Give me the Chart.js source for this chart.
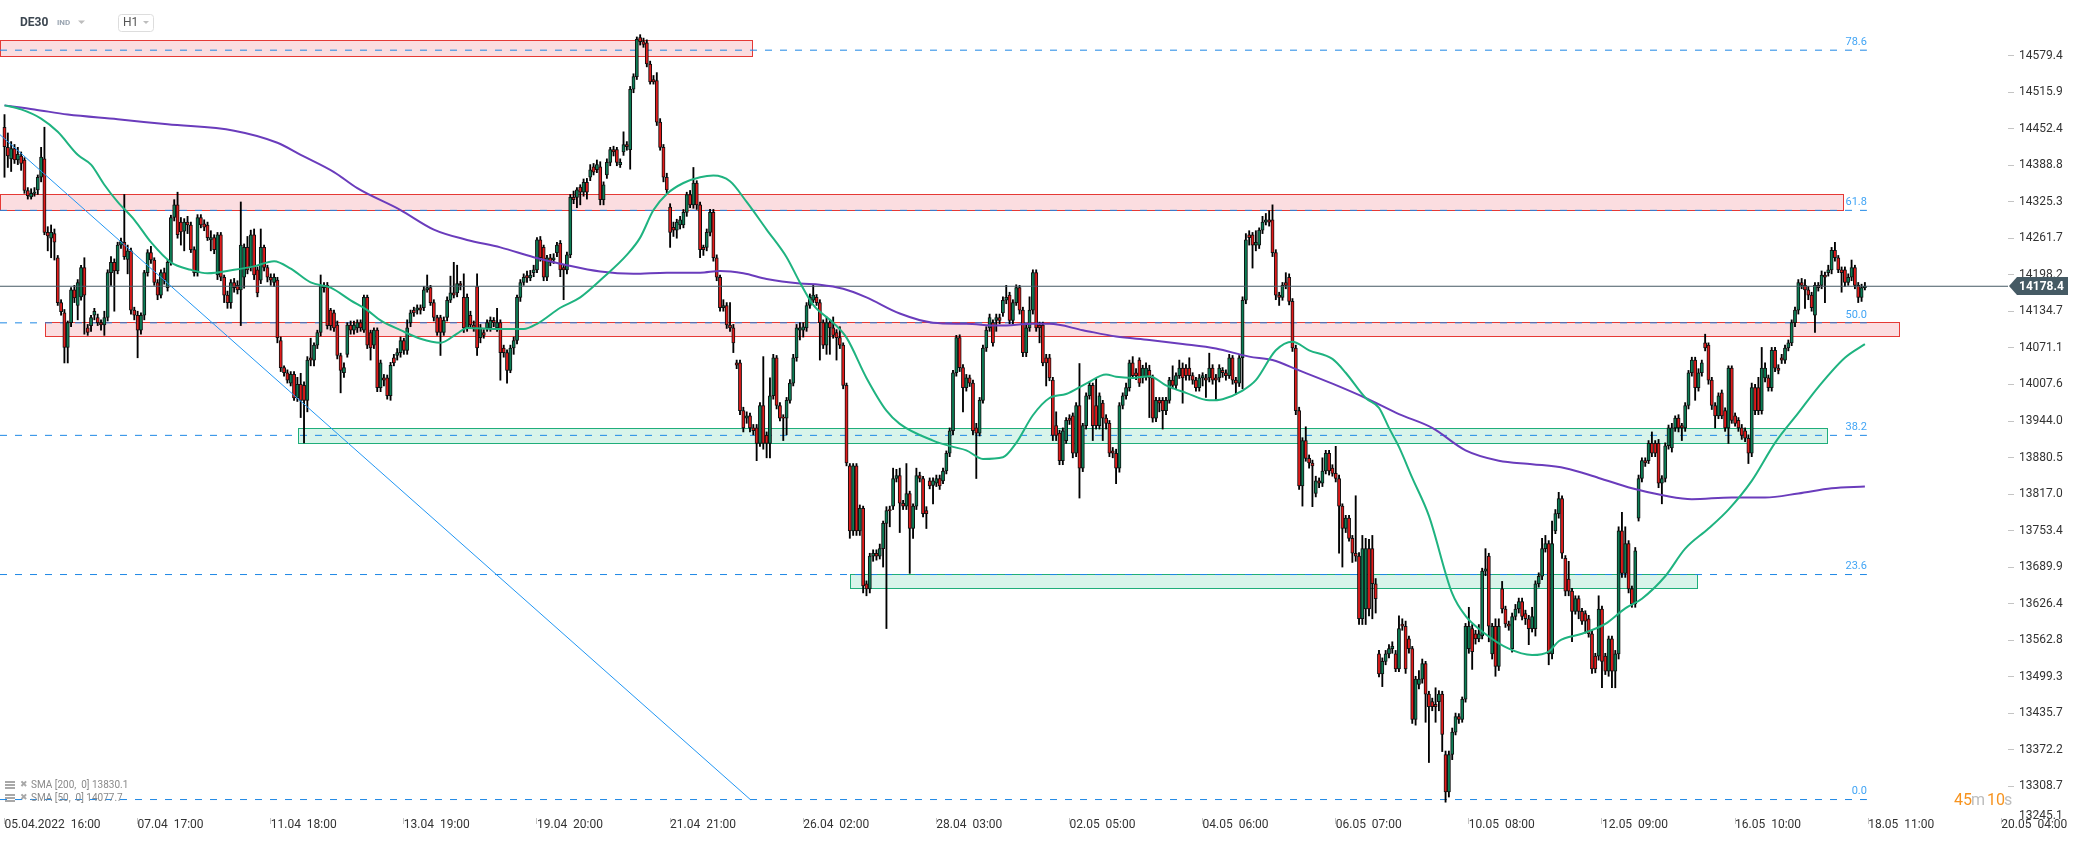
<!DOCTYPE html>
<html><head><meta charset="utf-8">
<script src="https://cdn.jsdelivr.net/npm/chart.js@4.4.1/dist/chart.umd.min.js"></script>
<style>html,body{margin:0;padding:0;background:#fff;overflow:hidden}canvas{display:block}</style>
</head><body>
<canvas id="c" width="2079" height="845" style="width:2079px;height:845px"></canvas>
<script>
const opens=[
14455,14420,14400,14418,14398,14405,14398,14345,14334,14340,
14346,14368,14400,14272,14262,14270,14228,14150,14132,14072,
14115,14172,14145,14160,14211,14106,14110,14128,14124,14115,
14111,14124,14202,14220,14205,14250,14255,14225,14240,14137,
14128,14102,14128,14202,14237,14224,14185,14163,14202,14176,
14220,14298,14320,14290,14274,14290,14285,14242,14202,14298,
14287,14285,14259,14263,14198,14268,14194,14163,14150,14185,
14180,14172,14194,14246,14211,14268,14207,14189,14246,14211,
14194,14185,14189,14084,14037,14028,14010,14025,13984,14008,
14006,13980,14054,14050,14076,14098,14180,14180,14137,14132,
14111,14058,14028,14060,14111,14102,14106,14115,14102,14159,
14098,14076,14102,14002,14019,14019,13988,14054,14058,14063,
14084,14067,14115,14137,14137,14141,14141,14172,14176,14150,
14124,14124,14098,14124,14154,14167,14167,14183,14159,14106,
14128,14111,14178,14089,14098,14106,14106,14119,14106,14115,
14071,14063,14032,14071,14084,14159,14185,14197,14193,14202,
14207,14259,14246,14194,14228,14224,14237,14253,14211,14207,
14233,14333,14333,14351,14342,14359,14368,14386,14381,14386,
14329,14372,14394,14416,14416,14390,14412,14425,14416,14521,
14543,14611,14604,14602,14565,14538,14536,14464,14420,14368,
14316,14281,14276,14285,14285,14307,14338,14320,14358,14320,
14246,14246,14272,14307,14228,14194,14141,14145,14111,14106,
14045,14045,13962,13949,13953,13932,13932,13905,13971,13919,
13905,13988,14054,13971,13951,13949,13980,14010,14054,14102,
14102,14106,14145,14154,14159,14150,14115,14076,14115,14106,
14098,14089,14076,14006,13866,13753,13866,13753,13792,13661,
13652,13709,13714,13709,13722,13766,13790,13796,13844,13849,
13801,13796,13818,13757,13796,13849,13844,13788,13840,13832,
13836,13844,13840,13857,13888,13927,14028,14089,14037,14002,
14019,14010,13932,13923,13980,14071,14106,14115,14119,14124,
14132,14154,14163,14119,14150,14176,14137,14063,14106,14137,
14202,14111,14111,14054,14054,14015,13936,13923,13875,13910,
13949,13953,13888,13971,13862,13936,13988,14006,13971,13936,
13975,13949,13940,13892,13888,13862,13971,13988,14002,14045,
14028,14050,14019,14022,14032,14019,13949,13980,13980,13962,
13980,14015,14006,14023,14036,14036,14036,14023,14015,14002,
14019,14019,14019,14036,14019,14019,14032,14028,14023,14054,
14015,14010,14054,14154,14268,14268,14250,14250,14276,14290,
14294,14294,14237,14163,14159,14185,14194,14152,14071,13962,
13831,13910,13879,13871,13818,13840,13836,13857,13888,13862,
13853,13844,13796,13757,13775,13740,13714,13709,13600,13617,
13722,13722,13661,13539,13504,13526,13539,13548,13539,13513,
13591,13587,13565,13548,13425,13486,13495,13522,13469,13456,
13451,13456,13469,13364,13299,13364,13403,13430,13425,13460,
13548,13583,13574,13565,13570,13683,13709,13539,13587,13517,
13652,13617,13591,13548,13604,13617,13630,13609,13600,13583,
13583,13661,13674,13722,13731,13539,13753,13783,13809,13705,
13669,13648,13613,13635,13613,13609,13600,13574,13535,13535,
13617,13535,13509,13565,13509,13539,13753,13679,13731,13652,
13626,13775,13844,13875,13875,13905,13905,13905,13836,13844,
13901,13897,13932,13949,13936,13932,13971,14028,14050,14002,
14028,14080,14076,14015,13971,13953,13993,13962,13932,14036,
13953,13945,13932,13927,13914,13888,14002,14002,13962,14019,
14019,14002,14067,14036,14054,14050,14071,14080,14115,14137,
14185,14180,14172,14163,14128,14180,14180,14198,14202,14207,
14241,14228,14207,14207,14185,14194,14211,14180,14159,14176];
const highs=[
14477,14445,14430,14425,14420,14412,14402,14350,14348,14350,
14372,14420,14455,14282,14285,14278,14232,14155,14138,14118,
14176,14180,14190,14215,14228,14112,14128,14140,14130,14120,
14135,14207,14230,14226,14255,14262,14338,14250,14245,14142,
14135,14132,14206,14242,14248,14228,14190,14207,14210,14224,
14302,14329,14342,14298,14296,14300,14290,14247,14303,14303,
14294,14290,14275,14268,14272,14272,14198,14170,14190,14192,
14188,14325,14252,14265,14276,14278,14212,14278,14250,14215,
14200,14200,14194,14090,14040,14033,14030,14030,14020,14027,
14012,14056,14088,14080,14102,14198,14185,14185,14140,14137,
14118,14062,14045,14115,14118,14118,14120,14120,14163,14163,
14102,14106,14106,14050,14025,14024,14046,14060,14070,14090,
14088,14120,14137,14142,14146,14146,14178,14198,14180,14155,
14128,14128,14125,14160,14196,14220,14215,14187,14200,14165,
14135,14118,14200,14112,14103,14120,14125,14124,14140,14120,
14076,14068,14076,14090,14163,14190,14200,14205,14206,14215,
14263,14265,14250,14232,14234,14235,14255,14258,14215,14238,
14338,14344,14350,14355,14365,14366,14390,14392,14398,14395,
14360,14400,14420,14422,14420,14400,14447,14430,14526,14548,
14612,14616,14610,14607,14570,14545,14550,14470,14425,14375,
14322,14290,14295,14300,14312,14342,14345,14385,14362,14325,
14250,14278,14312,14312,14233,14198,14155,14150,14150,14112,
14050,14050,13968,13960,13958,13938,13938,13976,14056,13925,
14019,14060,14058,13976,13955,13985,14016,14060,14112,14115,
14115,14150,14165,14180,14164,14155,14120,14125,14120,14125,
14103,14108,14080,14010,13870,13870,13870,13798,13796,13666,
13714,13720,13720,13730,13770,13795,13796,13862,13860,13862,
13806,13870,13822,13800,13862,13855,13848,13795,13845,13845,
13850,13850,13862,13892,13932,14032,14093,14094,14042,14025,
14024,14015,13940,13985,14076,14108,14130,14120,14130,14130,
14160,14180,14168,14155,14181,14180,14142,14112,14160,14207,
14207,14116,14116,14060,14060,14020,13960,13928,13932,13950,
13955,13958,13976,14044,13940,13993,14012,14010,14018,13993,
13980,13955,13945,13898,13895,13976,13993,14010,14050,14056,
14035,14054,14041,14045,14041,14024,13985,13985,13985,13985,
14020,14040,14028,14050,14045,14042,14054,14028,14020,14025,
14028,14025,14062,14042,14025,14042,14037,14033,14060,14058,
14020,14058,14160,14270,14275,14272,14275,14280,14300,14305,
14310,14320,14242,14168,14185,14202,14200,14157,14076,13968,
13915,13934,13885,13876,13848,13845,13880,13893,13893,13868,
13900,13850,13800,13780,13780,13745,13814,13715,13745,13740,
13738,13745,13670,13545,13532,13545,13555,13560,13545,13605,
13600,13596,13570,13552,13500,13510,13530,13526,13474,13462,
13480,13475,13474,13370,13370,13410,13436,13435,13464,13592,
13620,13590,13580,13590,13688,13722,13714,13592,13600,13600,
13665,13622,13596,13610,13625,13636,13636,13615,13606,13620,
13666,13680,13740,13745,13736,13770,13790,13820,13814,13710,
13700,13653,13640,13640,13618,13614,13606,13580,13540,13640,
13622,13540,13570,13570,13545,13760,13785,13760,13736,13657,
13724,13850,13880,13880,13910,13925,13910,13912,13849,13906,
13937,13940,13953,13955,13940,13976,14032,14055,14055,14035,
14050,14095,14080,14020,13976,13993,13998,13967,14040,14040,
13958,13950,13938,13932,13920,14010,14008,14020,14072,14045,
14024,14072,14072,14042,14060,14076,14085,14120,14142,14190,
14192,14190,14178,14168,14185,14185,14205,14203,14215,14246,
14255,14232,14212,14212,14200,14224,14215,14185,14182,14185];
const lows=[
14368,14385,14378,14392,14390,14380,14340,14330,14330,14335,
14338,14360,14268,14240,14228,14224,14145,14128,14045,14045,
14108,14150,14120,14154,14095,14093,14100,14120,14110,14102,
14093,14118,14180,14135,14200,14244,14225,14200,14130,14120,
14054,14095,14120,14196,14218,14180,14155,14158,14182,14170,
14215,14292,14262,14250,14240,14270,14237,14196,14196,14280,
14275,14258,14240,14235,14190,14188,14150,14140,14140,14168,
14165,14110,14175,14200,14205,14190,14160,14183,14205,14186,
14180,14178,14080,14030,14022,14010,14005,13980,13978,13950,
13906,13960,14040,14040,14070,14092,14168,14104,14102,14100,
14052,13993,14020,14055,14095,14095,14098,14100,14098,14070,
14050,14070,13995,13995,14005,13982,13980,14040,14050,14055,
14060,14060,14108,14126,14130,14130,14136,14168,14145,14118,
14093,14058,14093,14118,14150,14158,14160,14172,14098,14100,
14105,14100,14058,14080,14088,14100,14100,14108,14100,14015,
14055,14010,14028,14060,14078,14152,14180,14185,14188,14195,
14202,14222,14188,14188,14214,14218,14230,14195,14155,14200,
14228,14322,14315,14320,14335,14330,14362,14372,14376,14320,
14320,14366,14388,14405,14388,14385,14406,14415,14382,14515,
14538,14598,14594,14560,14530,14530,14458,14415,14360,14340,
14246,14265,14262,14278,14280,14300,14315,14314,14312,14228,
14232,14240,14266,14222,14188,14135,14135,14105,14100,14063,
14035,13955,13925,13940,13925,13920,13875,13900,13895,13880,
13880,13982,13965,13944,13910,13920,13975,14005,14048,14085,
14090,14100,14140,14150,14145,14050,14070,14060,14060,14088,
14050,14070,14000,13866,13740,13745,13745,13745,13645,13640,
13645,13700,13702,13704,13690,13583,13760,13790,13838,13750,
13790,13790,13679,13740,13790,13838,13777,13757,13826,13800,
13830,13825,13835,13852,13882,13920,14022,14030,13960,13996,
14004,13920,13844,13918,13975,14065,14100,14074,14100,14113,
14126,14148,14113,14113,14145,14130,14056,14056,14100,14130,
14100,14080,14040,14005,14014,13910,13910,13868,13868,13905,
13938,13880,13882,13810,13856,13930,13982,13910,13930,13930,
13910,13930,13882,13880,13835,13855,13965,13982,13996,14018,
14016,14004,14010,14015,13950,13942,13943,13960,13930,13955,
13975,14000,14000,14018,13975,14015,14015,14008,13996,13996,
14005,13985,14012,14008,13980,14012,14020,14015,14018,14008,
13990,14004,14000,14148,14250,14210,14240,14244,14270,14285,
14283,14230,14155,14145,14154,14174,14146,14065,13955,13825,
13796,13874,13862,13795,13812,13828,13830,13852,13850,13848,
13838,13714,13690,13750,13735,13698,13700,13590,13590,13590,
13605,13600,13610,13499,13482,13520,13532,13540,13508,13508,
13580,13505,13540,13418,13415,13478,13488,13420,13350,13440,
13420,13440,13369,13281,13290,13355,13398,13418,13420,13455,
13540,13512,13556,13560,13565,13675,13560,13530,13500,13510,
13610,13585,13580,13542,13598,13610,13598,13590,13555,13577,
13570,13655,13668,13716,13520,13530,13748,13775,13705,13640,
13640,13560,13608,13600,13590,13575,13568,13505,13506,13528,
13480,13503,13500,13480,13480,13530,13672,13672,13645,13620,
13620,13770,13838,13865,13870,13882,13882,13828,13800,13838,
13895,13890,13926,13925,13910,13926,13965,14022,13980,13996,
14022,14066,14008,13964,13932,13948,13948,13926,13905,13940,
13935,13926,13912,13908,13870,13882,13955,13955,13956,14012,
13996,13996,14030,14026,14044,14044,14066,14075,14108,14130,
14174,14140,14155,14135,14098,14170,14174,14150,14196,14200,
14222,14202,14168,14178,14180,14188,14174,14150,14152,14172];
const closes=[
14421,14405,14418,14398,14408,14392,14345,14336,14340,14342,
14368,14403,14272,14266,14272,14255,14150,14134,14072,14115,
14172,14158,14185,14211,14163,14098,14124,14135,14115,14111,
14124,14202,14220,14205,14250,14256,14230,14240,14137,14128,
14102,14128,14202,14237,14224,14185,14163,14202,14189,14220,
14298,14320,14268,14273,14290,14285,14242,14202,14298,14285,
14281,14263,14263,14242,14268,14194,14163,14150,14185,14176,
14172,14250,14246,14207,14268,14198,14167,14246,14211,14194,
14189,14194,14089,14037,14028,14015,14025,13984,14008,13980,
13980,14050,14050,14076,14098,14180,14176,14110,14110,14106,
14058,14032,14037,14111,14102,14111,14115,14106,14159,14076,
14071,14102,14002,14045,14015,13988,14041,14045,14063,14084,
14067,14106,14132,14132,14141,14137,14172,14176,14150,14124,
14098,14098,14119,14154,14167,14163,14183,14180,14106,14159,
14111,14106,14071,14106,14093,14115,14119,14115,14115,14063,
14063,14032,14071,14084,14159,14185,14194,14193,14198,14207,
14259,14228,14194,14228,14220,14228,14250,14207,14207,14233,
14333,14329,14346,14342,14359,14342,14381,14377,14390,14329,
14355,14394,14416,14412,14394,14394,14425,14421,14521,14543,
14608,14604,14599,14565,14534,14534,14464,14420,14368,14346,
14272,14276,14290,14294,14307,14338,14320,14358,14320,14242,
14242,14272,14307,14228,14194,14141,14145,14111,14106,14080,
14041,13962,13932,13953,13932,13927,13905,13971,13905,13905,
13988,14054,13971,13949,13949,13980,14010,14054,14106,14106,
14108,14145,14159,14163,14150,14115,14076,14115,14106,14093,
14089,14076,14006,13871,13753,13866,13753,13792,13657,13652,
13709,13714,13709,13722,13766,13788,13788,13844,13849,13801,
13796,13818,13757,13796,13849,13844,13783,13783,13831,13840,
13844,13831,13857,13888,13927,14028,14089,14037,14002,14019,
14010,13927,13923,13980,14071,14102,14124,14080,14124,14119,
14154,14159,14119,14150,14176,14137,14063,14106,14137,14202,
14106,14106,14045,14045,14019,13919,13919,13875,13927,13945,
13945,13888,13971,13862,13936,13988,14006,13936,13936,13988,
13949,13940,13888,13888,13862,13971,13988,14002,14045,14023,
14023,14010,14036,14036,14019,13949,13980,13975,13962,13980,
14015,14006,14023,14036,14019,14023,14023,14015,14002,14019,
14023,14015,14036,14015,14015,14036,14028,14023,14054,14015,
14010,14054,14154,14259,14263,14250,14255,14276,14290,14294,
14290,14237,14163,14159,14180,14180,14152,14071,13962,13831,
13910,13879,13871,13866,13840,13836,13857,13888,13857,13853,
13844,13796,13757,13775,13740,13714,13709,13600,13722,13722,
13617,13661,13635,13504,13526,13539,13548,13552,13513,13583,
13587,13513,13548,13425,13495,13495,13522,13469,13447,13447,
13447,13469,13399,13299,13364,13403,13430,13425,13460,13587,
13587,13543,13565,13574,13683,13687,13587,13587,13517,13587,
13617,13591,13587,13604,13617,13630,13604,13600,13583,13604,
13661,13674,13722,13731,13539,13731,13783,13809,13714,13648,
13648,13613,13635,13613,13596,13596,13574,13513,13513,13617,
13526,13509,13565,13509,13539,13753,13679,13731,13652,13626,
13718,13844,13875,13871,13905,13888,13888,13836,13844,13901,
13932,13932,13949,13932,13932,13971,14028,14050,14002,14028,
14045,14071,14015,13971,13953,13988,13953,13932,14036,13945,
13940,13932,13919,13914,13888,14002,13962,13962,14036,14036,
14002,14067,14036,14032,14050,14071,14080,14115,14137,14185,
14180,14172,14163,14141,14180,14176,14198,14194,14207,14241,
14228,14207,14202,14185,14194,14211,14180,14159,14176,14178.4];

const xTickLabels=['05.04.2022  16:00','07.04  17:00','11.04  18:00','13.04  19:00','19.04  20:00','21.04  21:00','26.04  02:00','28.04  03:00','02.05  05:00','04.05  06:00','06.05  07:00','10.05  08:00','12.05  09:00','16.05  10:00','18.05  11:00','20.05  04:00'];
const barsPerLabel=40;
const yTickValues=[13245.1,13308.7,13372.2,13435.7,13499.3,13562.8,13626.4,13689.9,13753.4,13817.0,13880.5,13944.0,14007.6,14071.1,14134.7,14198.2,14261.7,14325.3,14388.8,14452.4,14515.9,14579.4];

const sma200Idx=[0,9,19,34,49,69,82,89,99,106,119,129,139,149,159,169,179,189,199,209,215,222,229,239,245,252,259,269,279,289,299,309,314,324,334,344,354,364,374,381,389,399,409,419,429,439,449,459,469,479,489,499,507,519,529,539,549,559];
const sma200Val=[14493,14486,14477,14469,14460,14449,14428,14407,14377,14349,14311,14277,14259,14246,14229,14215,14204,14200,14202,14202,14205,14201,14191,14183,14181,14174,14159,14131,14115,14113,14110,14113,14113,14102,14091,14085,14078,14070,14056,14050,14032,14009,13984,13956,13932,13893,13875,13869,13862,13845,13827,13814,13808,13811,13811,13818,13827,13830.1];
const sma50Idx=[0,5,11,16,22,26,30,34,39,44,50,56,61,69,75,81,86,92,98,104,109,113,119,125,131,136,139,149,156,160,167,173,180,187,191,195,199,204,209,213,218,223,229,235,239,243,249,253,259,265,269,279,285,289,294,300,304,309,314,319,325,331,334,339,344,349,355,362,366,372,376,382,387,392,399,403,409,413,416,419,423,428,435,439,444,452,459,464,467,474,481,487,492,499,505,512,518,525,532,539,545,553,559];
const sma50Val=[14493,14486,14470,14447,14407,14390,14355,14325,14294,14255,14220,14207,14201,14207,14213,14222,14209,14185,14176,14154,14137,14119,14102,14087,14080,14096,14106,14104,14104,14113,14141,14159,14194,14233,14263,14311,14339,14358,14368,14371,14361,14325,14277,14229,14185,14146,14115,14089,14019,13962,13939,13910,13899,13893,13878,13881,13906,13954,13984,13991,14009,14025,14021,14019,14022,14006,13993,13980,13982,13997,14015,14067,14082,14067,14052,14028,13984,13967,13932,13899,13845,13779,13644,13605,13578,13548,13537,13543,13561,13574,13591,13618,13635,13674,13722,13757,13790,13840,13906,13958,14003,14054,14077.7];

const fibLevels=[78.6,61.8,50.0,38.2,23.6,0.0];
const fibLow=13285.6, fibHigh=14943.9, fibEndIdx=559.6;
const trendStart=[-1.352,14442], trendEnd=[224.1,13285.6];
const lastPrice=14178.4;
const zones=[
 {x0:-1.352,x1:224.6,lo:14579,hi:14607,kind:'red'},
 {x0:-1.352,x1:552.4,lo:14310.6,hi:14339.4,kind:'red'},
 {x0:12.17,x1:569.3,lo:14092.4,hi:14116,kind:'red'},
 {x0:88.3,x1:547.5,lo:13906.5,hi:13931,kind:'green'},
 {x0:254.1,x1:508.7,lo:13653.5,hi:13678,kind:'green'}
];

const X_MIN=-1.352, X_MAX=602, Y_MIN=13253.5, Y_MAX=14676.3;
const GREEN='#0c7d55', RED='#e01b1b';
const idx=closes.map((_,i)=>i);

const datasets=[
 {type:'bar',label:'wick',data:idx.map(i=>({x:i,y:[lows[i],highs[i]]})),backgroundColor:'#000',borderWidth:0,barThickness:1.2,grouped:false,order:5},
 {type:'bar',label:'body',data:idx.map(i=>({x:i,y:[opens[i],closes[i]]})),backgroundColor:idx.map(i=>closes[i]>=opens[i]?GREEN:RED),borderColor:'#111',borderWidth:1,borderSkipped:false,barThickness:3.2,minBarLength:1,grouped:false,order:4}
];
fibLevels.forEach(p=>{
 const v=fibLow+p/100*(fibHigh-fibLow);
 datasets.push({type:'line',label:'fib'+p,data:[{x:X_MIN,y:v},{x:fibEndIdx,y:v}],borderColor:'#1e88e5',borderWidth:1,borderDash:[7,8],pointRadius:0,order:6});
});
datasets.push({type:'line',label:'trend',data:[{x:trendStart[0],y:trendStart[1]},{x:trendEnd[0],y:trendEnd[1]}],borderColor:'#2196f3',borderWidth:1,pointRadius:0,order:3});
datasets.push({type:'line',label:'last',data:[{x:X_MIN,y:lastPrice},{x:X_MAX,y:lastPrice}],borderColor:'#455a64',borderWidth:1,pointRadius:0,order:3});
datasets.push({type:'line',label:'SMA200',data:sma200Idx.map((x,k)=>({x,y:sma200Val[k]})),borderColor:'#6a3cbc',borderWidth:2,pointRadius:0,cubicInterpolationMode:'monotone',order:1});
datasets.push({type:'line',label:'SMA50',data:sma50Idx.map((x,k)=>({x,y:sma50Val[k]})),borderColor:'#1fb380',borderWidth:2,pointRadius:0,cubicInterpolationMode:'monotone',order:0});

const overlay={
 id:'overlay',
 beforeDatasetsDraw(chart){
  const {ctx,chartArea:a,scales:{x,y}}=chart;
  ctx.save();ctx.beginPath();ctx.rect(a.left,a.top,a.width,a.height);ctx.clip();
  zones.forEach(z=>{
   const x0=Math.round(x.getPixelForValue(z.x0)),x1=Math.round(x.getPixelForValue(z.x1));
   const y0=Math.round(y.getPixelForValue(z.hi)),y1=Math.round(y.getPixelForValue(z.lo));
   ctx.fillStyle=z.kind==='red'?'rgba(244,160,170,0.36)':'rgba(60,200,150,0.2)';
   ctx.fillRect(x0,y0,x1-x0,y1-y0);
   ctx.strokeStyle=z.kind==='red'?'#e53935':'#1fae7a';ctx.lineWidth=1;
   ctx.strokeRect(x0+0.5,y0+0.5,x1-x0,y1-y0);
  });
  ctx.restore();
 },
 afterDraw(chart){
  const {ctx,chartArea:a,scales:{x,y}}=chart;
  ctx.save();
  ctx.font='11px Roboto';ctx.fillStyle='#42a5f5';ctx.textAlign='right';ctx.textBaseline='middle';
  fibLevels.forEach(p=>{
   const v=fibLow+p/100*(fibHigh-fibLow);
   ctx.fillText(p.toFixed(1),x.getPixelForValue(fibEndIdx),y.getPixelForValue(v)-8);
  });
  ctx.font='12px Roboto';ctx.fillStyle='#333';ctx.textAlign='left';
  ctx.fillText(yTickValues[0].toFixed(1),a.right+11,y.getPixelForValue(yTickValues[0])-7);
  const py=Math.round(y.getPixelForValue(lastPrice));
  ctx.fillStyle='#455a64';ctx.beginPath();
  ctx.moveTo(a.right+1,py);ctx.lineTo(a.right+9,py-9);ctx.lineTo(2068,py-9);ctx.lineTo(2068,py+9);ctx.lineTo(a.right+9,py+9);ctx.closePath();ctx.fill();
  ctx.fillStyle='#fff';ctx.font='bold 12px Roboto';ctx.textAlign='left';
  ctx.fillText(lastPrice.toFixed(1),a.right+11,py+0.5);
  ctx.textBaseline='middle';
  ctx.fillStyle='#3c4650';ctx.font='bold 12px Roboto';ctx.fillText('DE30',20,23);
  ctx.fillStyle='#9aa5b1';ctx.font='bold 8px Roboto';ctx.fillText('IND',57,23);
  ctx.fillStyle='#bdbdbd';
  ctx.beginPath();ctx.moveTo(78,20.5);ctx.lineTo(85,20.5);ctx.lineTo(81.5,24);ctx.closePath();ctx.fill();
  ctx.strokeStyle='#dddddd';ctx.lineWidth=1;
  ctx.beginPath();ctx.roundRect(118.5,14.5,35,17,3);ctx.stroke();
  ctx.fillStyle='#555';ctx.font='12px Roboto';ctx.fillText('H1',123,23);
  ctx.fillStyle='#bdbdbd';
  ctx.beginPath();ctx.moveTo(143,21);ctx.lineTo(149,21);ctx.lineTo(146,24);ctx.closePath();ctx.fill();
  const leg=[['SMA [200,  0] ',sma200Val[sma200Val.length-1]],['SMA [50,  0] ',sma50Val[sma50Val.length-1]]];
  leg.forEach((l,k)=>{
   const ly=785+k*13;
   ctx.fillStyle='#a8a8a8';
   ctx.fillRect(5,ly-4,10,2);ctx.fillRect(5,ly-1,10,2);ctx.fillRect(5,ly+2,10,2);
   ctx.font='9px "DejaVu Sans"';ctx.fillText('\u2716',20,ly);
   ctx.fillStyle='#8a8a8a';ctx.font='10px Roboto';ctx.fillText(l[0]+l[1].toFixed(1),31,ly);
  });
  ctx.font='16px Roboto';ctx.textBaseline='middle';
  const parts=[['45','#f7931e',1954],['m','#bdbdbd',1971],['10','#f7931e',1987],['s','#bdbdbd',2004]];
  parts.forEach(p=>{ctx.fillStyle=p[1];ctx.fillText(p[0],p[2],801);});
  ctx.restore();
 }
};

new Chart(document.getElementById('c'),{
 type:'bar',
 data:{datasets},
 plugins:[overlay],
 options:{
  responsive:false,animation:false,devicePixelRatio:1,events:[],
  layout:{padding:0,autoPadding:false},
  plugins:{legend:{display:false},tooltip:{enabled:false}},
  scales:{
   x:{type:'linear',min:X_MIN,max:X_MAX,offset:false,bounds:'data',position:'bottom',
    grid:{display:true,drawOnChartArea:false,drawTicks:true,tickLength:6,color:'#c4c4c4',offset:false},
    border:{display:false},
    ticks:{autoSkip:false,maxRotation:0,minRotation:0,align:'start',padding:-6,color:'#333',font:{family:'Roboto',size:12},callback:(v,i)=>xTickLabels[i]},
    afterBuildTicks:s=>{s.ticks=xTickLabels.map((_,k)=>({value:k*barsPerLabel}));},
    afterFit:s=>{s.height=27;s.paddingLeft=0;s.paddingRight=0;}
   },
   y:{type:'linear',position:'right',min:Y_MIN,max:Y_MAX,bounds:'data',
    grid:{drawOnChartArea:false,drawTicks:true,tickLength:6,color:'#c4c4c4'},
    border:{display:false},
    ticks:{padding:5,color:'#333',font:{family:'Roboto',size:12},callback:v=>Number(v).toFixed(1)},
    afterBuildTicks:s=>{s.ticks=yTickValues.filter(v=>v>=s.min&&v<=s.max).map(v=>({value:v}));},
    afterFit:s=>{s.width=71;s.paddingTop=0;s.paddingBottom=0;}
   }
  }
 }
});
</script>
</body></html>
